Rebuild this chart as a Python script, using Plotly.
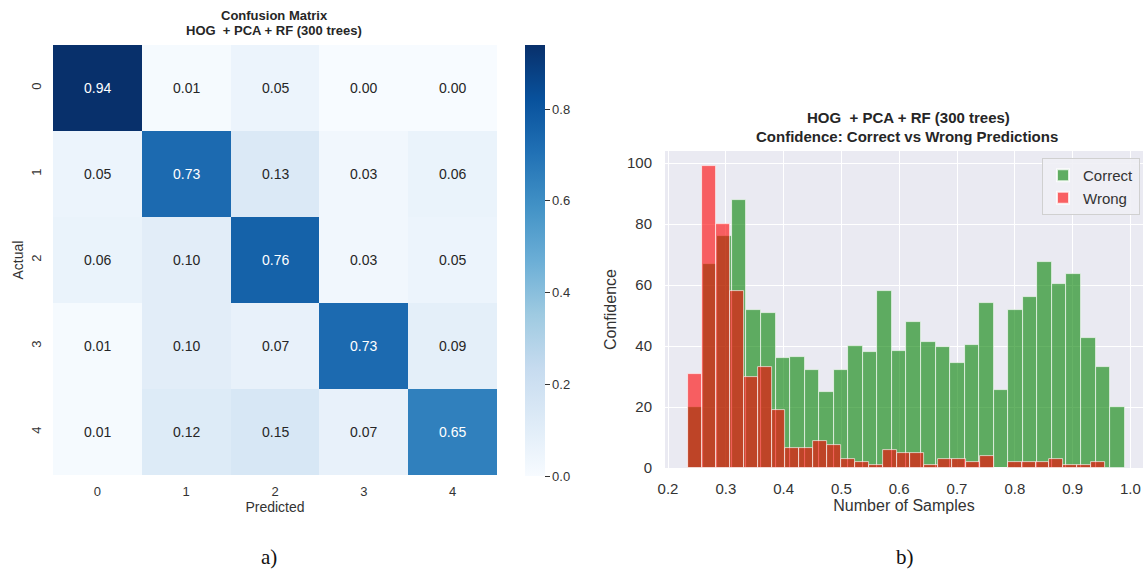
import numpy as np
import plotly.graph_objects as go

W, H = 1145, 574

# ---------------- Data ----------------
classes = ["0", "1", "2", "3", "4"]
cm_values = [
    [0.94, 0.01, 0.05, 0.00, 0.00],
    [0.05, 0.73, 0.13, 0.03, 0.06],
    [0.06, 0.10, 0.76, 0.03, 0.05],
    [0.01, 0.10, 0.07, 0.73, 0.09],
    [0.01, 0.12, 0.15, 0.07, 0.65],
]
cbar_ticks = [0.0, 0.2, 0.4, 0.6, 0.8]

correct_range = (0.235, 0.990)   # histogram range of correct-prediction confidences
correct_counts = [20, 67, 76, 88, 52, 51, 36, 36.5, 32, 25,
                  32, 40, 38, 58, 38.5, 48, 41.5, 39.6, 34.3, 40.5,
                  54, 25.6, 52, 56, 67.6, 60.5, 63.6, 42.5, 33.2, 20]
wrong_range = (0.235, 0.956)
wrong_counts = [31, 99, 80, 58, 30, 33, 19, 6.5, 6.5, 9,
                7.5, 3, 2, 1, 6, 5, 5, 1, 3, 3,
                2, 4, 0, 2, 2, 2, 3, 1, 1, 2]
hist_xticks = [0.2, 0.3, 0.4, 0.5, 0.6, 0.7, 0.8, 0.9, 1.0]
hist_yticks = [0, 20, 40, 60, 80, 100]

# ---------------- helpers ----------------
def px_x(p):
    return p / W

def px_y(p):
    return 1 - p / H

blues = ['#f7fbff', '#deebf7', '#c6dbef', '#9ecae1', '#6baed6',
         '#4292c6', '#2171b5', '#08519c', '#08306b']
blues_scale = [[i / (len(blues) - 1), c] for i, c in enumerate(blues)]

SANS = "Liberation Sans, Arial, sans-serif"
TXT = "#333333"

fig = go.Figure()

# ---------------- Heatmap ----------------
zmax = max(max(r) for r in cm_values)
zmin = min(min(r) for r in cm_values)
fig.add_trace(go.Heatmap(
    z=cm_values, x=classes, y=classes,
    colorscale=blues_scale, zmin=zmin, zmax=zmax,
    xaxis="x", yaxis="y", hoverinfo="skip",
    colorbar=dict(
        x=px_x(525), xanchor="left", thickness=20, thicknessmode="pixels",
        xpad=0, ypad=0,
        y=px_y(476), yanchor="bottom", len=(476 - 45) / H, lenmode="fraction",
        outlinewidth=0, tickvals=cbar_ticks, ticktext=[f"{t:.1f}" for t in cbar_ticks],
        ticks="outside", ticklen=5, tickwidth=1.2, tickcolor="#333333",
        tickfont=dict(family=SANS, size=13, color=TXT),
    ),
))

annotations = []
for i, row in enumerate(cm_values):
    for j, v in enumerate(row):
        annotations.append(dict(
            x=classes[j], y=classes[i], xref="x", yref="y",
            text=f"{v:.2f}", showarrow=False,
            font=dict(family=SANS, size=14,
                      color="white" if v > 0.5 else "#262626"),
        ))

# ---------------- Histograms ----------------
def bins(rng, n):
    edges = np.linspace(rng[0], rng[1], n + 1)
    return (edges[:-1] + edges[1:]) / 2, (rng[1] - rng[0]) / n

cx, cw = bins(correct_range, len(correct_counts))
wx, ww = bins(wrong_range, len(wrong_counts))

fig.add_trace(go.Bar(
    x=cx, y=correct_counts, width=cw, name="Correct",
    marker=dict(color="rgba(0,128,0,0.6)", line=dict(color="rgba(255,255,255,0.8)", width=0.8)),
    xaxis="x2", yaxis="y2", hoverinfo="skip",
))
fig.add_trace(go.Bar(
    x=wx, y=wrong_counts, width=ww, name="Wrong",
    marker=dict(color="rgba(255,0,0,0.6)", line=dict(color="rgba(255,255,255,0.8)", width=0.8)),
    xaxis="x2", yaxis="y2", hoverinfo="skip",
))

# ---------------- Titles / captions ----------------
def title_ann(text, x, y, size):
    return dict(text=text, x=px_x(x), y=px_y(y), xref="paper", yref="paper",
                xanchor="center", yanchor="middle", showarrow=False,
                font=dict(family=SANS, size=size, color="#262626"))

annotations += [
    title_ann("<b>Confusion Matrix</b>", 274, 16, 13),
    title_ann("<b>HOG  + PCA + RF (300 trees)</b>", 274, 30, 13),
    title_ann("<b>HOG  + PCA + RF (300 trees)</b>", 908, 118, 15),
    title_ann("<b>Confidence: Correct vs Wrong Predictions</b>", 907, 136, 15),
    dict(text="a)", x=px_x(269), y=px_y(557), xref="paper", yref="paper",
         showarrow=False, xanchor="center", yanchor="middle",
         font=dict(family="Liberation Serif, serif", size=21, color="#111111")),
    dict(text="b)", x=px_x(905), y=px_y(557), xref="paper", yref="paper",
         showarrow=False, xanchor="center", yanchor="middle",
         font=dict(family="Liberation Serif, serif", size=21, color="#111111")),
]

# hist x range from pixel calibration: 0.2 at px 668, 0.1 per 57.8 px
hx0 = 0.2 + (665 - 668) / 578
hx1 = 0.2 + (1143 - 668) / 578

fig.update_layout(
    width=W, height=H,
    margin=dict(l=0, r=0, t=0, b=0, pad=0, autoexpand=False),
    paper_bgcolor="white", plot_bgcolor="white",
    barmode="overlay", bargap=0,
    font=dict(family=SANS, color=TXT),
    xaxis=dict(
        domain=[px_x(53), px_x(497)], anchor="y", automargin=False,
        type="category", range=[-0.5, 4.5],
        showgrid=False, zeroline=False, showline=False, ticks="",
        ticklabelstandoff=7,
        tickfont=dict(family=SANS, size=13, color=TXT),
        title=dict(text="Predicted", font=dict(family=SANS, size=14, color=TXT), standoff=4),
    ),
    yaxis=dict(
        domain=[px_y(475), px_y(45)], anchor="x", automargin=False,
        type="category", range=[4.5, -0.5],
        showgrid=False, zeroline=False, showline=False, ticks="",
        tickangle=-90, ticklabelstandoff=8,
        tickfont=dict(family=SANS, size=13, color=TXT),
        title=dict(text="Actual", font=dict(family=SANS, size=14, color=TXT), standoff=2),
    ),
    xaxis2=dict(
        domain=[px_x(665), px_x(1143)], anchor="y2", automargin=False,
        range=[hx0, hx1], tickvals=hist_xticks,
        ticktext=[f"{t:.1f}" for t in hist_xticks],
        showgrid=True, gridcolor="white", gridwidth=1,
        zeroline=False, showline=False, ticks="",
        ticklabelstandoff=10,
        tickfont=dict(family=SANS, size=15, color=TXT),
        title=dict(text="Number of Samples", font=dict(family=SANS, size=16, color=TXT), standoff=3),
    ),
    yaxis2=dict(
        domain=[px_y(468), px_y(151)], anchor="x2", automargin=False,
        range=[0, 104], tickvals=hist_yticks,
        showgrid=True, gridcolor="white", gridwidth=1,
        zeroline=False, showline=False, ticks="",
        ticklabelstandoff=12,
        tickfont=dict(family=SANS, size=15, color=TXT),
        title=dict(text="Confidence", font=dict(family=SANS, size=16, color=TXT), standoff=6),
    ),
    legend=dict(
        x=px_x(1140), xanchor="right", y=px_y(158), yanchor="top",
        bgcolor="rgba(240,240,245,0.9)", bordercolor="#d0d0d0", borderwidth=1,
        font=dict(family=SANS, size=15, color=TXT),
        itemsizing="constant",
    ),
    annotations=annotations,
    shapes=[dict(type="rect", xref="paper", yref="paper",
                 x0=px_x(665), x1=px_x(1143), y0=px_y(468), y1=px_y(151),
                 fillcolor="#EAEAF2", line=dict(width=0), layer="below")],
)

fig.write_html(
    "out.html",
    config={"displayModeBar": False},
    post_script="document.body.style.margin='0';document.body.style.overflow='hidden';",
)
